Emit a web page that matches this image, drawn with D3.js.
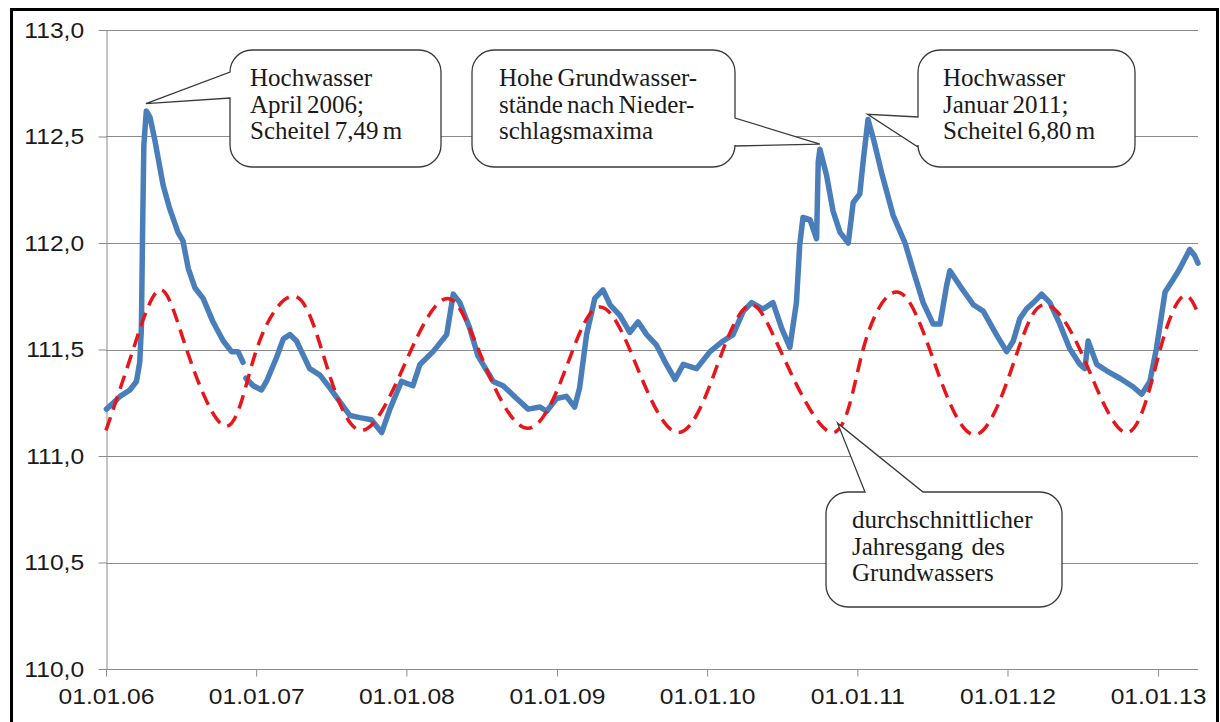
<!DOCTYPE html>
<html>
<head>
<meta charset="utf-8">
<script src="https://cdn.jsdelivr.net/npm/d3@7/dist/d3.min.js"></script>
<style>
  html, body { margin: 0; padding: 0; background: #fff; }
  svg { display: block; }
  .axis text { font-family: "Liberation Sans", Arial, sans-serif; font-size: 22px; fill: #1a1a1a; }
  .axis path, .axis line { stroke: #8c8c8c; }
  .callout text { font-family: "Liberation Serif", "Times New Roman", serif; font-size: 25px; word-spacing: -2px; fill: #1a1a1a; }
</style>
</head>
<body>
<svg id="chart" width="1220" height="722"></svg>
<script>
// Grundwasserganglinie (gemessen), Lücke Ende 2006 als null
var ganglinie = [
  ["2006-01-02", 111.22], ["2006-01-19", 111.25], ["2006-02-04", 111.28], ["2006-02-28", 111.31],
  ["2006-03-16", 111.35], ["2006-03-24", 111.44], ["2006-03-28", 111.60], ["2006-03-31", 112.07],
  ["2006-04-03", 112.46], ["2006-04-09", 112.62], ["2006-04-18", 112.59], ["2006-04-30", 112.48],
  ["2006-05-20", 112.27], ["2006-06-05", 112.16], ["2006-06-25", 112.05], ["2006-07-07", 112.01],
  ["2006-07-20", 111.88], ["2006-08-05", 111.79], ["2006-08-25", 111.74], ["2006-09-18", 111.63],
  ["2006-10-13", 111.54], ["2006-11-02", 111.49], ["2006-11-18", 111.49], ["2006-11-30", 111.44],
  ["2006-12-03", null],
  ["2006-12-07", 111.365], ["2006-12-25", 111.33], ["2007-01-14", 111.31], ["2007-01-26", 111.35],
  ["2007-02-19", 111.46], ["2007-03-08", 111.55], ["2007-03-24", 111.57], ["2007-04-09", 111.54],
  ["2007-05-11", 111.41], ["2007-06-05", 111.38], ["2007-06-29", 111.32], ["2007-07-23", 111.255],
  ["2007-08-17", 111.19], ["2007-09-10", 111.18], ["2007-10-08", 111.17], ["2007-11-02", 111.11],
  ["2007-11-22", 111.22], ["2007-12-20", 111.35], ["2008-01-17", 111.33], ["2008-02-03", 111.43],
  ["2008-03-06", 111.49], ["2008-04-08", 111.57], ["2008-04-24", 111.76], ["2008-05-10", 111.72],
  ["2008-06-03", 111.60], ["2008-06-23", 111.47], ["2008-07-30", 111.35], ["2008-08-23", 111.33],
  ["2008-09-25", 111.27], ["2008-10-23", 111.22], ["2008-11-21", 111.23], ["2008-12-07", 111.21],
  ["2008-12-31", 111.27], ["2009-01-24", 111.28], ["2009-02-13", 111.23], ["2009-02-25", 111.32],
  ["2009-03-14", 111.57], ["2009-04-03", 111.74], ["2009-04-23", 111.78], ["2009-05-10", 111.71],
  ["2009-06-03", 111.66], ["2009-06-27", 111.58], ["2009-07-17", 111.63], ["2009-08-07", 111.57],
  ["2009-08-31", 111.52], ["2009-09-24", 111.43], ["2009-10-15", 111.36], ["2009-11-04", 111.43],
  ["2009-12-06", 111.41], ["2010-01-08", 111.49], ["2010-02-09", 111.54], ["2010-03-05", 111.57],
  ["2010-03-30", 111.68], ["2010-04-19", 111.72], ["2010-05-17", 111.69], ["2010-06-10", 111.72],
  ["2010-07-01", 111.60], ["2010-07-21", 111.51], ["2010-08-06", 111.72], ["2010-08-14", 111.99],
  ["2010-08-22", 112.12], ["2010-09-08", 112.11], ["2010-09-24", 112.02], ["2010-09-28", 112.38],
  ["2010-10-02", 112.44], ["2010-10-18", 112.32], ["2010-11-03", 112.15], ["2010-11-20", 112.05],
  ["2010-12-10", 112.00], ["2010-12-22", 112.19], ["2011-01-07", 112.23], ["2011-01-15", 112.38],
  ["2011-01-27", 112.58], ["2011-02-09", 112.49], ["2011-03-01", 112.33], ["2011-03-29", 112.13],
  ["2011-04-27", 112.00], ["2011-05-17", 111.87], ["2011-06-10", 111.72], ["2011-07-04", 111.62],
  ["2011-07-21", 111.62], ["2011-08-06", 111.80], ["2011-08-14", 111.87], ["2011-09-07", 111.80],
  ["2011-10-10", 111.71], ["2011-11-03", 111.68], ["2011-12-05", 111.57], ["2011-12-30", 111.49],
  ["2012-01-15", 111.54], ["2012-01-31", 111.645], ["2012-02-16", 111.69], ["2012-03-04", 111.72],
  ["2012-03-24", 111.76], ["2012-04-13", 111.72], ["2012-05-07", 111.62], ["2012-05-31", 111.505],
  ["2012-06-25", 111.43], ["2012-07-07", 111.41], ["2012-07-15", 111.54], ["2012-08-05", 111.43],
  ["2012-08-29", 111.40], ["2012-09-30", 111.365], ["2012-11-01", 111.325], ["2012-11-22", 111.29],
  ["2012-12-12", 111.35], ["2012-12-28", 111.505], ["2013-01-18", 111.77], ["2013-02-07", 111.83],
  ["2013-02-23", 111.88], ["2013-03-19", 111.97], ["2013-03-31", 111.94], ["2013-04-08", 111.905]
];

// durchschnittlicher Jahresgang (gestrichelt)
var jahresgang = [
  ["2006-01-01", 111.12], ["2006-03-08", 111.50], ["2006-05-12", 111.78], ["2006-07-16", 111.50],
  ["2006-10-21", 111.14], ["2007-01-02", 111.50], ["2007-03-31", 111.75], ["2007-06-09", 111.50],
  ["2007-09-14", 111.12], ["2008-01-13", 111.50], ["2008-04-10", 111.74], ["2008-06-24", 111.50],
  ["2008-10-23", 111.13], ["2009-02-09", 111.50], ["2009-04-15", 111.70], ["2009-06-27", 111.50],
  ["2009-10-23", 111.11], ["2010-02-09", 111.50], ["2010-04-19", 111.71], ["2010-06-27", 111.50],
  ["2010-11-01", 111.11], ["2011-01-15", 111.50], ["2011-04-06", 111.77], ["2011-06-26", 111.50],
  ["2011-10-14", 111.10], ["2012-01-27", 111.50], ["2012-04-01", 111.71], ["2012-06-25", 111.50],
  ["2012-10-16", 111.11], ["2013-01-06", 111.50], ["2013-03-03", 111.75], ["2013-04-08", 111.67]
];

var xStart = "2006-01-01", xEnd = "2013-04-08";
var yTicks = [110.0, 110.5, 111.0, 111.5, 112.0, 112.5, 113.0];

var calloutTexts = [
  ["Hochwasser", "April 2006;", "Scheitel 7,49 m"],
  ["Hohe Grundwasser-", "stände nach Nieder-", "schlagsmaxima"],
  ["Hochwasser", "Januar 2011;", "Scheitel 6,80 m"],
  ["durchschnittlicher", "Jahresgang  des", "Grundwassers"]
];
// Punkte auf den Kurven, auf die die Sprechblasen zeigen
var calloutAnchors = [
  ["2006-04-08", 112.64], ["2010-10-02", 112.45], ["2011-01-26", 112.59], ["2010-11-14", 111.14]
];

var parse = d3.timeParse("%Y-%m-%d");
var svg = d3.select("#chart");

var x = d3.scaleTime().domain([parse(xStart), parse(xEnd)]).range([106, 1198]);
var y = d3.scaleLinear().domain([110, 113]).range([669, 30]);

// outer frame
svg.append("rect")
  .attr("x", 11.5).attr("y", 9.5).attr("width", 1206).attr("height", 800)
  .attr("fill", "#fff").attr("stroke", "#000").attr("stroke-width", 3);

// grid
svg.append("g").selectAll("line").data(yTicks).enter().append("line")
  .attr("x1", 106).attr("x2", 1198)
  .attr("y1", function (d) { return Math.round(y(d)) + 0.5; })
  .attr("y2", function (d) { return Math.round(y(d)) + 0.5; })
  .attr("stroke", "#8c8c8c").attr("stroke-width", 1);

var fmtY = function (d) { return d.toFixed(1).replace(".", ","); };

var yAxis = svg.append("g").attr("class", "axis")
  .attr("transform", "translate(106.5,0)")
  .call(d3.axisLeft(y).tickValues(yTicks).tickFormat(fmtY).tickSize(8).tickPadding(12).tickSizeOuter(0));
yAxis.selectAll("text").attr("transform", "scale(1.12,1)");

var xAxis = svg.append("g").attr("class", "axis")
  .attr("transform", "translate(0,669.5)")
  .call(d3.axisBottom(x).ticks(d3.timeYear.every(1)).tickFormat(d3.timeFormat("%d.%m.%y"))
    .tickSize(7).tickPadding(12).tickSizeOuter(0));
xAxis.selectAll("text").attr("transform", "scale(1.12,1)");
xAxis.select(".domain").attr("d", "M106,0H1198");

// series
var line = d3.line()
  .defined(function (d) { return d[1] !== null; })
  .x(function (d) { return x(parse(d[0])); })
  .y(function (d) { return y(d[1]); });

svg.append("path").datum(ganglinie)
  .attr("d", line)
  .attr("fill", "none").attr("stroke", "#4a7ebb").attr("stroke-width", 5.5)
  .attr("stroke-linejoin", "round").attr("stroke-linecap", "round");

svg.append("path").datum(jahresgang)
  .attr("d", line.curve(d3.curveNatural))
  .attr("fill", "none").attr("stroke", "#e8161b").attr("stroke-width", 3.5)
  .attr("stroke-dasharray", "14,8");

// callouts
var boxes = [
  { x: 230, y: 50, w: 211, h: 117, side: "left", a0: 22, a1: 48, dx: 20 },
  { x: 472, y: 50, w: 263, h: 117, side: "right", a0: 68, a1: 96, dx: 27 },
  { x: 918, y: 50, w: 217, h: 117, side: "left", a0: 67, a1: 97, dx: 25 },
  { x: 826, y: 492, w: 236, h: 115, side: "top", a0: 39, a1: 97, dx: 26 }
];

function calloutPath(b, tip) {
  var r = 22, x0 = b.x, y0 = b.y, w = b.w, h = b.h;
  var t = tip[0] + "," + tip[1];
  var p = "M" + (x0 + r) + "," + y0;
  if (b.side === "top") p += "L" + (x0 + b.a0) + "," + y0 + "L" + t + "L" + (x0 + b.a1) + "," + y0;
  p += "L" + (x0 + w - r) + "," + y0 + "A" + r + "," + r + " 0 0 1 " + (x0 + w) + "," + (y0 + r);
  if (b.side === "right") p += "L" + (x0 + w) + "," + (y0 + b.a0) + "L" + t + "L" + (x0 + w) + "," + (y0 + b.a1);
  p += "L" + (x0 + w) + "," + (y0 + h - r) + "A" + r + "," + r + " 0 0 1 " + (x0 + w - r) + "," + (y0 + h);
  p += "L" + (x0 + r) + "," + (y0 + h) + "A" + r + "," + r + " 0 0 1 " + x0 + "," + (y0 + h - r);
  if (b.side === "left") p += "L" + x0 + "," + (y0 + b.a1) + "L" + t + "L" + x0 + "," + (y0 + b.a0);
  p += "L" + x0 + "," + (y0 + r) + "A" + r + "," + r + " 0 0 1 " + (x0 + r) + "," + y0 + "Z";
  return p;
}

var callout = svg.append("g").selectAll("g.callout")
  .data(boxes).enter().append("g").attr("class", "callout");

callout.append("path")
  .attr("d", function (b, i) {
    var a = calloutAnchors[i];
    return calloutPath(b, [x(parse(a[0])), y(a[1]) - 3]);
  })
  .attr("fill", "#fff").attr("stroke", "#3a3a3a").attr("stroke-width", 1.3);

callout.each(function (b, i) {
  var g = d3.select(this);
  calloutTexts[i].forEach(function (s, k) {
    g.append("text")
      .attr("x", b.x + b.dx)
      .attr("y", b.y + 36 + k * 26.7)
      .attr("xml:space", "preserve")
      .text(s);
  });
});
</script>
</body>
</html>
